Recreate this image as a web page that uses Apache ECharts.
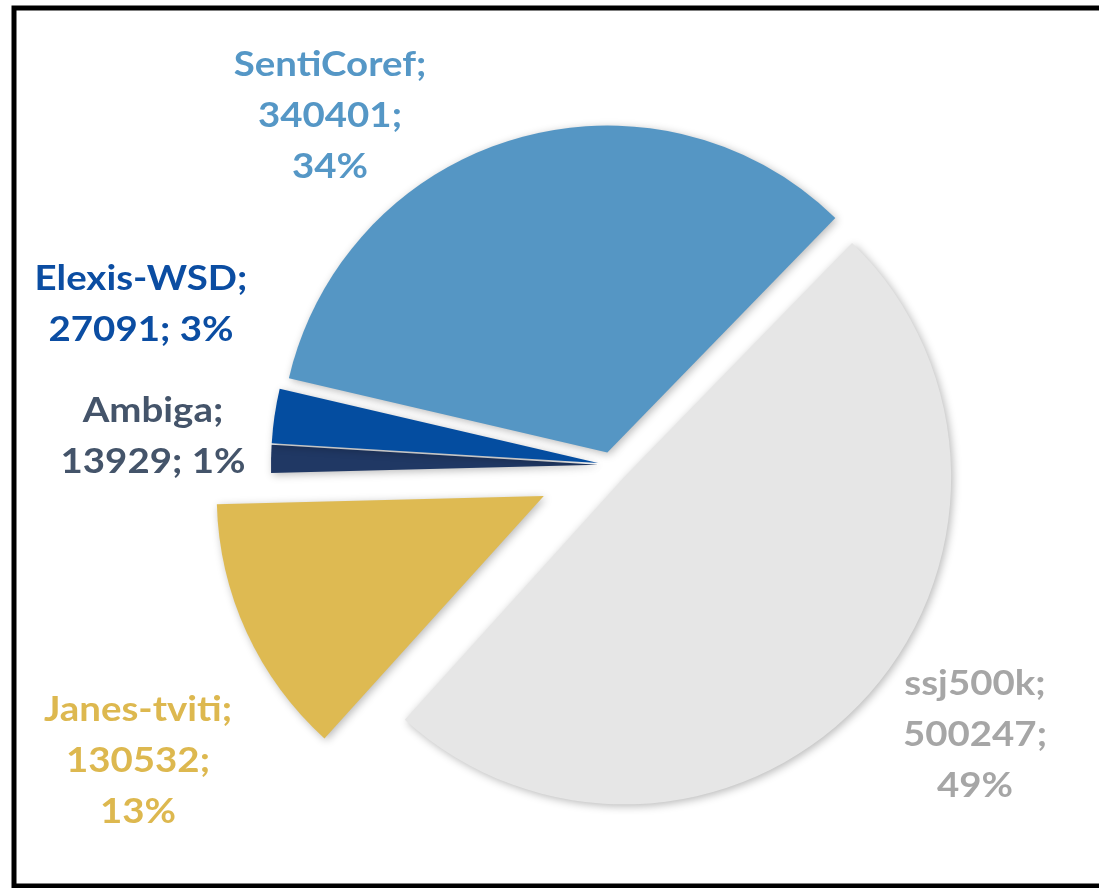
<!DOCTYPE html>
<html><head><meta charset="utf-8">
<script src="https://cdn.jsdelivr.net/npm/echarts@6/dist/echarts.min.js"></script>
<style>html,body{margin:0;padding:0;background:#fff}#chart{width:1099px;height:888px}</style>
</head><body><div id="chart"></div>
<script>
// ---- data ----
const categories = ['ssj500k', 'Janes-tviti', 'Ambiga', 'Elexis-WSD', 'SentiCoref'];
const values = [500247, 130532, 13929, 27091, 340401];

// ---- styles / layout ----
const sliceColors = ['#E6E6E6', '#DEBA52', '#203864', '#044DA0', '#5596C4'];
const labelColors = ['#A6A6A6', '#DDB84F', '#44546A', '#0B4DA2', '#5597C6'];
const compactLabel = [false, false, true, true, false];
const explodeGroups = [
  { offset: 18, members: [0] },
  { offset: 74, members: [1] },
  { offset: 13, members: [2, 3, 4] }
];
// label block centres (text placement, px)
const labelAnchor = [[975, 735], [138, 761], [153, 437], [141, 305], [330, 116]];
const CX = 611, CY = 465, R = 327;

const total = values.reduce(function (a, b) { return a + b; }, 0);
function labelText(i) {
  const pct = Math.round(values[i] / total * 100);
  return compactLabel[i]
    ? categories[i] + ';\n' + values[i] + '; ' + pct + '%'
    : categories[i] + ';\n' + values[i] + ';\n' + pct + '%';
}

function buildSeries(group) {
  return {
    type: 'pie',
    center: [CX, CY],
    radius: [0, R],
    startAngle: 45.8,
    clockwise: true,
    selectedMode: 'multiple',
    selectedOffset: group.offset,
    silent: true,
    animation: false,
    emphasis: { disabled: true },
    label: { show: false },
    labelLine: { show: false },
    itemStyle: {
      borderWidth: 0,
      shadowBlur: 8,
      shadowColor: 'rgba(0,0,0,0.28)',
      shadowOffsetX: 2,
      shadowOffsetY: 2
    },
    data: categories.map(function (name, i) {
      const on = group.members.indexOf(i) >= 0;
      return {
        name: name,
        value: values[i],
        selected: on,
        itemStyle: { color: sliceColors[i], opacity: on ? 1 : 0 }
      };
    })
  };
}

const labelGraphics = categories.map(function (name, i) {
  return {
    type: 'text',
    x: labelAnchor[i][0],
    y: labelAnchor[i][1],
    scaleX: 1.13,
    silent: true,
    z: 50,
    style: {
      text: labelText(i),
      x: 0,
      y: 0,
      fill: labelColors[i],
      font: 'bold 34px Lato',
      lineHeight: 51,
      align: 'center',
      verticalAlign: 'middle'
    }
  };
});

const chart = echarts.init(document.getElementById('chart'), null, { renderer: 'canvas' });
chart.setOption({
  backgroundColor: '#ffffff',
  animation: false,
  graphic: [{
    type: 'rect',
    shape: { x: 14, y: 8, width: 1100, height: 878 },
    style: { fill: 'none', stroke: '#000000', lineWidth: 5 },
    silent: true,
    z: 100
  }].concat(labelGraphics),
  series: explodeGroups.map(buildSeries)
});
</script>
</body></html>
